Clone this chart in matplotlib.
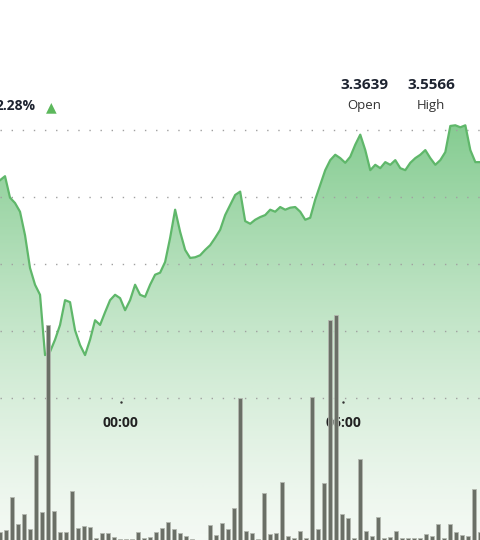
import numpy as np
import matplotlib.pyplot as plt
from matplotlib.patches import Polygon

plt.rcParams['font.family'] = ['Open Sans', 'DejaVu Sans']

# price sampled every ~8 minutes, first point 3h16m before 00:00
price = [3.475, 3.481, 3.449, 3.441, 3.428, 3.393, 3.344, 3.319, 3.304, 3.214,
         3.219, 3.237, 3.259, 3.296, 3.293, 3.251, 3.229, 3.214, 3.237, 3.266,
         3.259, 3.278, 3.296, 3.304, 3.299, 3.281, 3.296, 3.319, 3.304, 3.301,
         3.319, 3.334, 3.337, 3.353, 3.389, 3.431, 3.398, 3.371, 3.359, 3.360,
         3.363, 3.371, 3.378, 3.389, 3.401, 3.423, 3.438, 3.453, 3.458, 3.414,
         3.410, 3.416, 3.420, 3.423, 3.431, 3.428, 3.435, 3.431, 3.434, 3.435,
         3.428, 3.416, 3.419, 3.446, 3.468, 3.490, 3.505, 3.513, 3.508, 3.501,
         3.510, 3.528, 3.543, 3.520, 3.490, 3.498, 3.493, 3.502, 3.498, 3.505,
         3.493, 3.490, 3.501, 3.508, 3.513, 3.520, 3.508, 3.498, 3.505, 3.517,
         3.556, 3.557, 3.554, 3.557, 3.520, 3.502, 3.502]
volume = [8, 10, 43, 16, 26, 11, 85, 28, 215, 29, 8, 8, 49, 12, 14, 13, 2, 7, 7, 3,
          1, 1, 1, 8, 2, 3, 8, 12, 18, 11, 7, 4, 1, 0, 0, 15, 5, 17, 11, 32,
          142, 9, 7, 1, 47, 6, 7, 58, 4, 2, 9, 2, 143, 11, 57, 220, 225, 26, 22, 2,
          81, 9, 4, 23, 2, 3, 9, 2, 2, 2, 2, 6, 4, 16, 2, 16, 8, 5, 4, 51, 8]
grid_levels = [3.55, 3.45, 3.35, 3.25, 3.15]
tick_labels = ['00:00', '06:00']
tick_minutes = [0, 360]
stats = [('3.3639', 'Open'), ('3.5566', 'High'), ('3', '')]
change = '2.28%'

# time axis in minutes from 00:00
t_price = -196 + np.arange(len(price)) * 8.11
t_vol = -196 + np.arange(len(volume)) * 9.73
xmin, xmax = -196, 582

fig = plt.figure(figsize=(4.8, 5.4), dpi=100)
ax = fig.add_axes([0, 0, 1, 1])
ax.set_xlim(xmin, xmax)
ax.set_ylim(2.938, 3.744)
ax.axis('off')

# gradient fill under the price line
grad = np.linspace(0, 1, 256).reshape(-1, 1) ** 1.3
cmap = plt.matplotlib.colors.LinearSegmentedColormap.from_list('g', ['#f3f9f3', '#85cc91'])
im = ax.imshow(grad, cmap=cmap, aspect='auto', origin='lower',
               extent=[xmin, xmax, 2.938, 3.56], zorder=1)
poly = Polygon(np.column_stack([np.r_[t_price[0], t_price, t_price[-1]],
                                np.r_[2.938, price, 2.938]]), closed=True,
               facecolor='none', edgecolor='none')
ax.add_patch(poly)
im.set_clip_path(poly)
ax.plot(t_price, price, color='#5fb76a', lw=1.6, zorder=3)

for g in grid_levels:
    ax.axhline(g, color='#a0a0a0', lw=1.0, ls=(0, (1, 7)), zorder=2)

# volume bars on their own axis
vax = fig.add_axes([0, 0, 1, 1], sharex=ax)
vax.set_ylim(0, 540)
vax.axis('off')
vax.bar(t_vol, volume, width=6.5, color='#6a6f66', edgecolor='#b4b8b0',
        lw=0.6, zorder=4)

for m, lab in zip(tick_minutes, tick_labels):
    vax.text(m, 117, lab, ha='center', va='center', fontsize=10,
             fontweight='bold', color='#222222')
    vax.plot([m], [138], marker='.', ms=1.5, color='#333333')

fig.text(36 / 480, 1 - 106 / 540, change, ha='right', va='center', fontsize=10,
         fontweight='bold', color='#1d2330')
fig.text(51 / 480, 1 - 107 / 540, '\u25b2', ha='center', va='center', fontsize=10,
         color='#5cb85c', family='DejaVu Sans')
for i, (val, lab) in enumerate(stats):
    x = (364 + 67 * i) / 480
    fig.text(x, 1 - 85 / 540, val, ha='center', va='center', fontsize=11,
             fontweight='bold', color='#1d2330')
    fig.text(x, 1 - 105 / 540, lab, ha='center', va='center', fontsize=9.5,
             color='#333333')

fig.savefig('out.png', dpi=100)
